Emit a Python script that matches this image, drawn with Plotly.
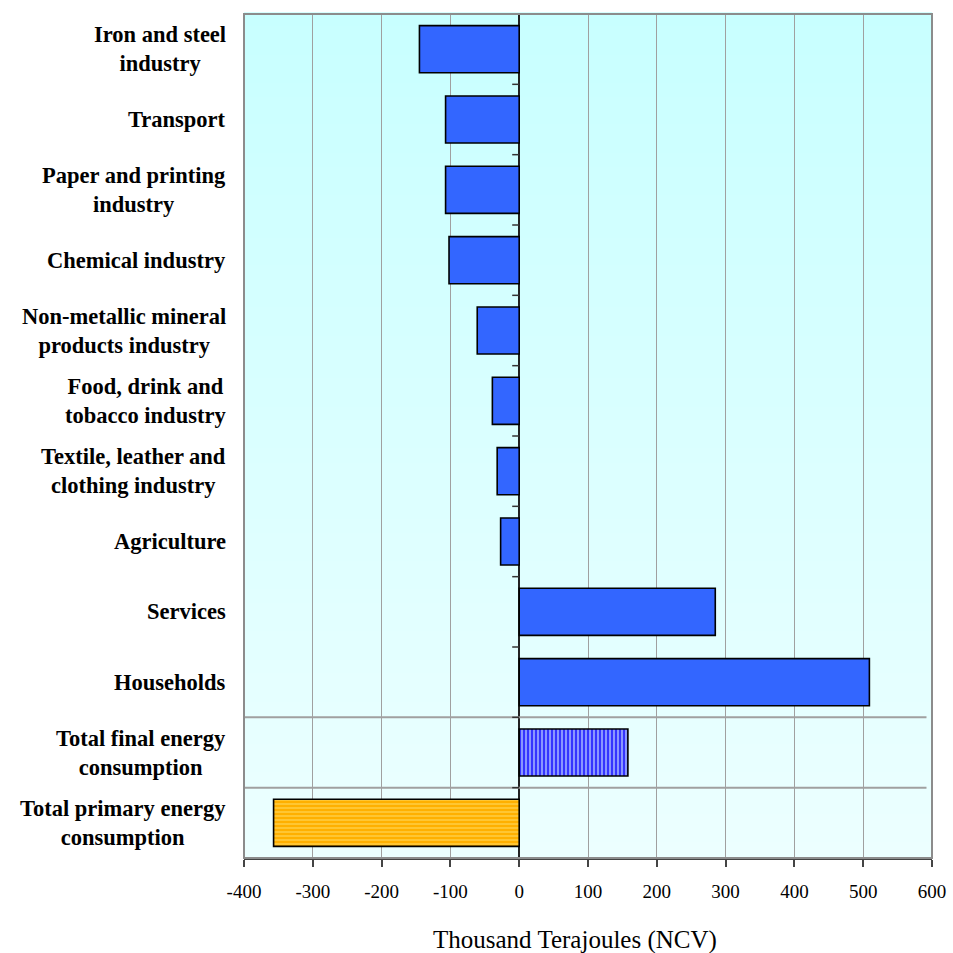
import plotly.graph_objects as go

categories = [
    "Iron and steel<br>industry",
    "Transport",
    "Paper and printing<br>industry",
    "Chemical industry",
    "Non-metallic mineral<br>products industry",
    "Food, drink and<br>tobacco industry",
    "Textile, leather and<br>clothing industry",
    "Agriculture",
    "Services",
    "Households",
    "Total final energy<br>consumption",
    "Total primary energy<br>consumption",
]
values = [-145, -107, -107, -102, -61, -39, -32, -27, 285, 509, 158, -357]
x_ticks = [-400, -300, -200, -100, 0, 100, 200, 300, 400, 500, 600]
x_title = "Thousand Terajoules (NCV)"

n = len(categories)
idx = list(range(n))

# bar styles: (index range, base colour, pattern shape, pattern colour)
styles = [
    (range(0, 10), "#3366ff", "", "#3366ff"),
    (range(10, 11), "#3535ff", "|", "#a0b0ff"),
    (range(11, 12), "#ffb000", "-", "#ffcc40"),
]

fig = go.Figure()
for rng, col, shp, fg in styles:
    fig.add_trace(go.Bar(
        y=[idx[i] for i in rng], x=[values[i] for i in rng], orientation="h",
        marker=dict(
            color=col,
            line=dict(color="#000000", width=1.6),
            pattern=dict(shape=shp, fgcolor=fg, bgcolor=col, size=4, solidity=0.4,
                         fillmode="replace"),
        ),
        hoverinfo="skip",
    ))

shapes = []
# gradient background
steps = 60
top = (200, 255, 255)
bot = (236, 255, 255)
for i in range(steps):
    t = i / (steps - 1)
    c = tuple(round(top[k] + (bot[k] - top[k]) * t) for k in range(3))
    shapes.append(dict(type="rect", xref="x domain", yref="y domain",
                       x0=0, x1=1, y0=1 - (i + 1) / steps, y1=1 - i / steps + 0.002,
                       fillcolor="rgb(%d,%d,%d)" % c, line=dict(width=0), layer="below"))
# separators between groups
for b in (9.5, 10.5):
    shapes.append(dict(type="line", xref="x domain", yref="y", x0=0, x1=0.992, y0=b, y1=b,
                       line=dict(color="#a0a0a0", width=2), layer="above"))
# tick marks on the category axis at zero
for b in [i + 0.5 for i in range(n - 1)]:
    shapes.append(dict(type="line", xref="x", xsizemode="pixel", xanchor=0, x0=-7, x1=0,
                       yref="y", y0=b, y1=b, line=dict(color="#333333", width=1.5)))
# plot frame (gray)
shapes.append(dict(type="rect", xref="x domain", yref="y domain", x0=0, x1=1, y0=0, y1=1,
                   line=dict(color="#8c8c8c", width=2), layer="above"))

annotations = []
for i, c in enumerate(categories):
    annotations.append(dict(x=0, xref="paper", xanchor="right", xshift=-16, y=i, yref="y",
                            text="<b>%s</b>" % c, showarrow=False, align="center",
                            font=dict(family="Liberation Serif", size=22.5, color="#000000")))
annotations.append(dict(x=0.481, xref="paper", xanchor="center", y=0, yref="paper",
                        yanchor="middle", yshift=-82, text=x_title, showarrow=False,
                        font=dict(family="Liberation Serif", size=25, color="#000000")))

fig.update_layout(
    width=953, height=953,
    margin=dict(l=244, r=21, t=14, b=95, autoexpand=False),
    paper_bgcolor="#ffffff",
    plot_bgcolor="#e6ffff",
    showlegend=False,
    barmode="overlay",
    bargap=0.33,
    shapes=shapes,
    annotations=annotations,
    font=dict(family="Liberation Serif", color="#000000"),
)
fig.update_xaxes(
    range=[-400, 600], tickvals=x_ticks, ticktext=[str(v) for v in x_ticks],
    automargin=False,
    showgrid=True, gridcolor="#a0a0a0", gridwidth=1,
    zeroline=True, zerolinecolor="#222222", zerolinewidth=2,
    showline=True, linecolor="#444444", linewidth=2,
    ticks="outside", ticklen=7, tickcolor="#444444", tickwidth=1.5,
    tickfont=dict(family="Liberation Serif", size=19, color="#000000"),
    ticklabelstandoff=8,
)
fig.update_yaxes(
    range=[n - 0.5, -0.5], showticklabels=False, showgrid=False, zeroline=False,
    tickvals=[], ticks="", automargin=False,
)

fig.write_html("out.html")
